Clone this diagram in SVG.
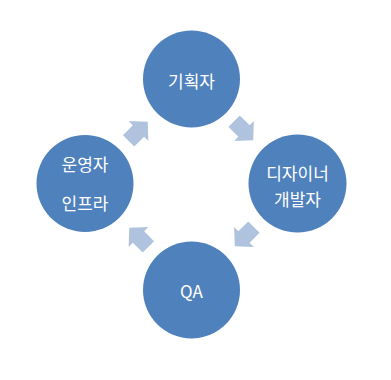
<svg xmlns="http://www.w3.org/2000/svg" width="391" height="380" viewBox="0 0 391 380">
<style>
.node{fill:#4f81bd}
.lbl{fill:#ffffff;font-family:"Malgun Gothic","Noto Sans CJK KR","Noto Sans",sans-serif;font-size:17px;text-anchor:middle;dominant-baseline:central}
.arr{fill:#b0c3de}
</style>
<defs>
<polygon id="arrow" points="-14,-8 0,-8 0,-14 13,0 0,14 0,8 -14,8"/>
</defs>
<rect width="391" height="380" fill="#ffffff"/>
<g id="connectors">
<use href="#arrow" class="arr" transform="translate(244,131) rotate(45)"/>
<use href="#arrow" class="arr" transform="translate(244,237) rotate(135)"/>
<use href="#arrow" class="arr" transform="translate(138.5,237) rotate(225)"/>
<use href="#arrow" class="arr" transform="translate(138.5,131) rotate(315)"/>
</g>
<g id="planner">
<circle class="node" cx="191.5" cy="79" r="48.5"/>
<text class="lbl" x="191.5" y="80">기획자</text>
</g>
<g id="designer">
<circle class="node" cx="297.5" cy="183.5" r="49"/>
<text class="lbl" x="297.5" y="172">디자이너</text>
<text class="lbl" x="297.5" y="198">개발자</text>
</g>
<g id="qa">
<circle class="node" cx="191.5" cy="290" r="48.5"/>
<text class="lbl" x="191.5" y="290">QA</text>
</g>
<g id="operator">
<circle class="node" cx="85" cy="183.5" r="48.5"/>
<text class="lbl" x="85" y="163">운영자</text>
<text class="lbl" x="85" y="202">인프라</text>
</g>
</svg>
